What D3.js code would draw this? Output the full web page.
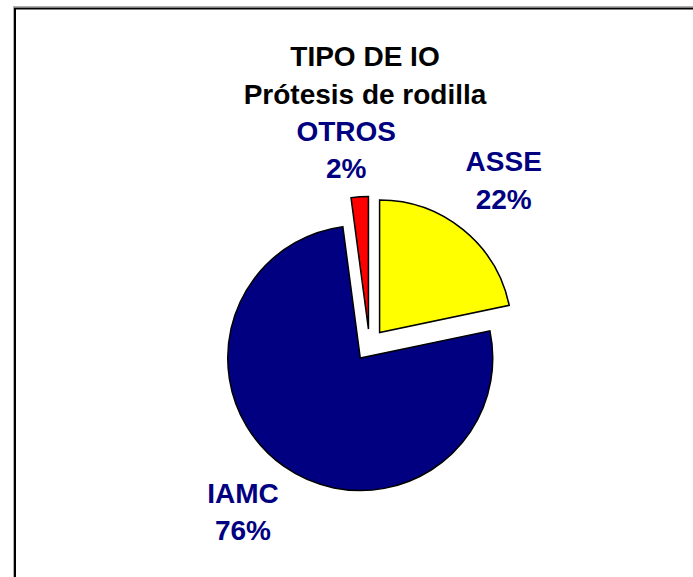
<!DOCTYPE html>
<html>
<head>
<meta charset="utf-8">
<script src="https://cdn.jsdelivr.net/npm/d3@7"></script>
<style>
  body { margin: 0; background: #fff; }
  text { font-family: "Liberation Sans", Arial, sans-serif; font-weight: bold; }
</style>
</head>
<body>
<svg width="693" height="577"></svg>
<script>
// data
var categories = ["ASSE", "IAMC", "OTROS"];
var shares = [21.7, 76.2, 2.1];
var colors = ["#ffff00", "#000080", "#ff0000"];
var titleLines = ["TIPO DE IO", "Prótesis de rodilla"];

// layout
var cx = 369.5, cy = 345, radius = 132.5, explode = 16;
var labelDist = [213, 209, 197];
var labelNudge = [0, 2, -3]; // degrees
var lineGap = 37.5;

var svg = d3.select("svg");

// frame
svg.append("rect")
    .attr("x", 13.5).attr("y", 6.5)
    .attr("width", 800).attr("height", 800)
    .attr("fill", "none")
    .attr("stroke", "#b0b0b0")
    .attr("stroke-width", 1);
svg.append("rect")
    .attr("x", 15).attr("y", 8.5)
    .attr("width", 800).attr("height", 800)
    .attr("fill", "none")
    .attr("stroke", "#000")
    .attr("stroke-width", 2);

// title
svg.append("g")
    .selectAll("text")
    .data(titleLines)
    .enter()
    .append("text")
    .attr("x", 365)
    .attr("y", function(d, i) { return 66 + i * lineGap; })
    .attr("text-anchor", "middle")
    .attr("font-size", 28)
    .attr("fill", "#000")
    .text(function(d) { return d; });

var data = categories.map(function(c, i) {
    return { name: c, value: shares[i], color: colors[i], idx: i };
});

var pie = d3.pie().sort(null).value(function(d) { return d.value; }).startAngle(0);
var arc = d3.arc().innerRadius(0).outerRadius(radius);
var arcs = pie(data);

var g = svg.append("g").attr("transform", "translate(" + cx + "," + cy + ")");

g.selectAll("path")
    .data(arcs)
    .enter()
    .append("path")
    .attr("d", arc)
    .attr("transform", function(d) {
        var mid = (d.startAngle + d.endAngle) / 2;
        return "translate(" + (Math.sin(mid) * explode) + "," + (-Math.cos(mid) * explode) + ")";
    })
    .attr("fill", function(d) { return d.data.color; })
    .attr("stroke", "#000")
    .attr("stroke-width", 1.5)
    .attr("stroke-linejoin", "miter");

// labels
var labels = g.selectAll("g.label")
    .data(arcs)
    .enter()
    .append("g")
    .attr("class", "label")
    .attr("transform", function(d) {
        var i = d.data.idx;
        var mid = (d.startAngle + d.endAngle) / 2 + labelNudge[i] * Math.PI / 180;
        var x = Math.sin(mid) * labelDist[i];
        var y = -Math.cos(mid) * labelDist[i];
        return "translate(" + x + "," + y + ")";
    });

labels.append("text")
    .attr("text-anchor", "middle")
    .attr("y", -8.5)
    .attr("font-size", 28)
    .attr("fill", "#000080")
    .text(function(d) { return d.data.name; });

labels.append("text")
    .attr("text-anchor", "middle")
    .attr("y", -8.5 + lineGap)
    .attr("font-size", 28)
    .attr("fill", "#000080")
    .text(function(d) { return Math.round(d.data.value) + "%"; });
</script>
</body>
</html>
